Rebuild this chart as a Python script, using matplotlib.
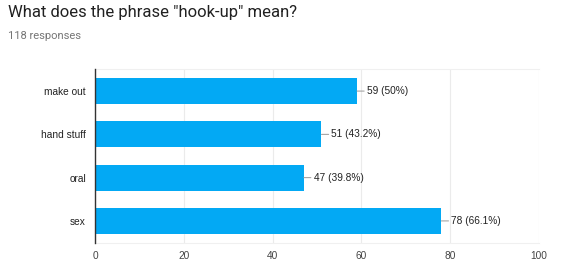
import matplotlib
matplotlib.use("Agg")
import matplotlib.pyplot as plt

categories = ["make out", "hand stuff", "oral", "sex"]
counts = [59, 51, 47, 78]
percents = ["50%", "43.2%", "39.8%", "66.1%"]
xticks = [0, 20, 40, 60, 80, 100]
title = 'What does the phrase "hook-up" mean?'
subtitle = "118 responses"

fig = plt.figure(figsize=(5.65, 2.78), dpi=100)
ax = fig.add_axes([95/565, 35/278, 444/565, 174/278])

ypos = list(range(len(categories)))
ax.barh(ypos, counts, height=0.6, color="#03a9f4", zorder=3)
ax.set_ylim(len(categories) - 0.5 + 0.01, -0.51)
ax.set_xlim(0, 100)
ax.set_xticks(xticks)
ax.set_xticklabels([str(t) for t in xticks], fontsize=7.3, color="#444444", family="Liberation Sans")
ax.set_yticks(ypos)
ax.set_yticklabels(categories, fontsize=7.3, color="#222222", family="Liberation Sans")
ax.tick_params(axis="both", length=0)
ax.tick_params(axis="x", pad=6)
ax.tick_params(axis="y", pad=6.5)
ax.grid(axis="x", color="#ebebeb", lw=0.8, zorder=0)
for s in ["top", "bottom", "right"]:
    ax.spines[s].set_color("#f0f0f0")
    ax.spines[s].set_linewidth(0.8)
ax.spines["right"].set_visible(False)
ax.spines["left"].set_color("#333333")
ax.spines["left"].set_linewidth(1.0)
ax.spines["left"].set_zorder(4)

for y, c, p in zip(ypos, counts, percents):
    ax.annotate(f"{c} ({p})", xy=(c, y), xytext=(10, 0), textcoords="offset pixels",
                va="center", ha="left", fontsize=7.3, color="#222222", family="Liberation Sans",
                arrowprops=dict(arrowstyle="-", color="#999999", lw=0.7, shrinkA=0, shrinkB=0))

fig.text(8/565, 1 - 17/278, title, fontsize=12, color="#212121", family="Roboto", va="baseline")
fig.text(8/565, 1 - 39/278, subtitle, fontsize=8, color="#757575", family="Roboto", va="baseline")

fig.savefig("out.png", dpi=100)
